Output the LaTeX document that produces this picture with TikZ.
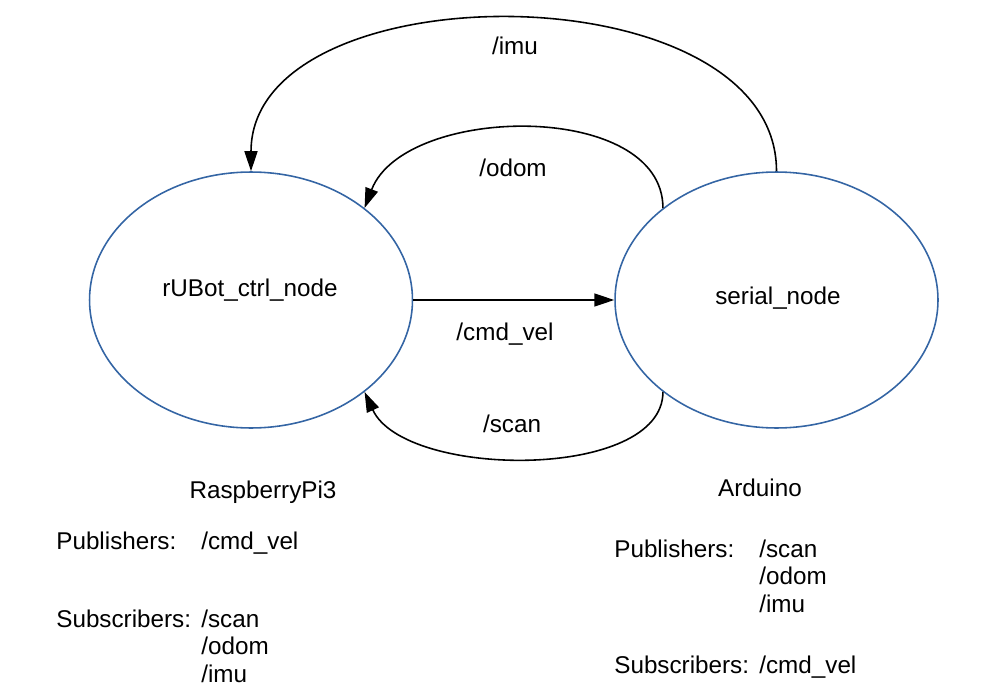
\documentclass[tikz,border=0pt]{standalone}
\usepackage{fontspec}
\setmainfont{Liberation Sans}
\usetikzlibrary{shapes.geometric, arrows.meta}
\definecolor{Azul}{RGB}{52, 101, 164}

\begin{document}
\begin{tikzpicture}[
        x=0.02cm, y=-0.02cm,
        rosnode/.style={
            ellipse,
            draw=Azul,
            line width=0.9pt,
            minimum width=6.46cm,
            minimum height=5.12cm,
            inner sep=0pt
        },
        arrow/.style={
            -{Triangle[length=0.4cm, width=0.26cm]},
            line width=0.9pt,
            draw=black
        },
        txt/.style={
            anchor=base,
            inner sep=0pt,
            font=\fontsize{13.8pt}{15.6pt}\selectfont
        },
        lst/.style={
            txt,
            anchor=base west,
            align=left
        }
    ]
        \useasboundingbox (0,0) rectangle (999,699);

        % Nodes
        \node[rosnode] (rpi) at (251, 300) {};
        \node[rosnode] (ard) at (776.5, 300) {};
        \node[txt] (rpiname) at (250, 296) {rUBot\_ctrl\_node};
        \node[txt] (ardname) at (778, 304) {serial\_node};

        % Paths
        \draw[arrow] (rpi) -- (ard);
        \draw[arrow] (ard.north) .. controls +(0,-203) and +(0,-203) .. (rpi.north);
        \draw[arrow] (ard.141) .. controls +(0,-108) and +(40,-104) .. (rpi.39);
        \draw[arrow] (ard.219) .. controls +(0,89) and +(40,87) .. (rpi.-39);

        % Topic labels
        \node[txt] (imulbl) at (515, 55) {/imu};
        \node[txt] (odomlbl) at (513, 176) {/odom};
        \node[txt] (cmdlbl) at (505, 340) {/cmd\_vel};
        \node[txt] (scanlbl) at (512, 432) {/scan};

        % Boards (multi-line lists sit on their last baseline)
        \node[txt] (rpiboard) at (263, 498) {RaspberryPi3};
        \node[txt] (ardboard) at (760, 496) {Arduino};
        \node[lst] (rpipub) at (56, 549) {Publishers:};
        \node[lst] (rpipubl) at (201, 549) {/cmd\_vel};
        \node[lst] (rpisub) at (56, 627) {Subscribers:};
        \node[lst] (rpisubl) at (201, 682) {/scan\\/odom\\/imu};
        \node[lst] (ardpub) at (614, 557) {Publishers:};
        \node[lst] (ardpubl) at (759, 612) {/scan\\/odom\\/imu};
        \node[lst] (ardsub) at (614, 673) {Subscribers:};
        \node[lst] (ardsubl) at (759, 673) {/cmd\_vel};
    \end{tikzpicture}
\end{document}
